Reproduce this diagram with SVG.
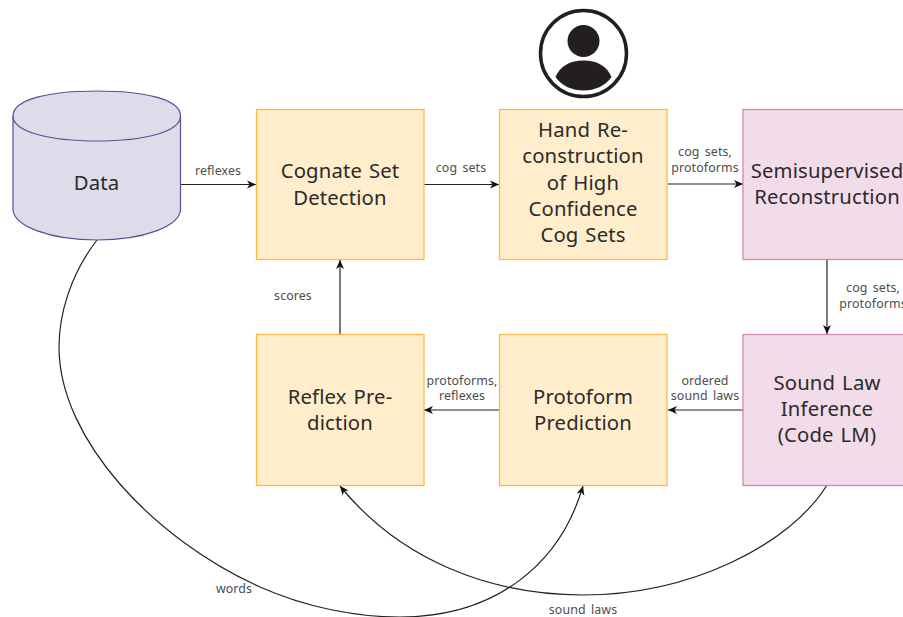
<svg xmlns="http://www.w3.org/2000/svg" width="903" height="617" viewBox="0 0 903 617">
<defs>
<marker id="arrow" viewBox="0 0 10 10" refX="9" refY="5" markerWidth="10" markerHeight="10" markerUnits="userSpaceOnUse" orient="auto"><path d="M0 1 L9 5 L0 9 L2.500 5 Z" fill="#111"/></marker>
</defs>
<style>
text{font-family:"Noto Sans","Open Sans",sans-serif;font-weight:400;text-anchor:middle;fill:#2b2b2b}
.n{font-size:20.300px;letter-spacing:.15px;word-spacing:1.500px}
.l{font-size:12.400px;letter-spacing:.1px;word-spacing:2px;fill:#4d4d4d}
.y{fill:#ffedcc;stroke:#fdbb45;stroke-width:1.300}
.p{fill:#f2dcea;stroke:#cf87b6;stroke-width:1.300}
.c{fill:none;stroke:#222;stroke-width:1.200;marker-end:url(#arrow)}
</style>
<g id="connectors">
<path class="c" d="M180.500 184.500H256"/>
<path class="c" d="M424 184.500H499"/>
<path class="c" d="M667.500 184H743"/>
<path class="c" d="M827 260V334"/>
<path class="c" d="M743 410H668"/>
<path class="c" d="M499 410H424"/>
<path class="c" d="M340 334V260"/>
<path class="c" d="M97 240C70 275 59 315 59 347C59 440 155 540 260 587C305 607 355 617 400 617C495 617 560 565 583 486"/>
<path class="c" d="M827 485C790 545 690 595 583 595C490 595 400 560 340 486"/>
</g>
<g id="labels">
<text class="l" x="218" y="175">reflexes</text>
<text class="l" x="461" y="172">cog sets</text>
<text class="l" x="705" y="156">cog sets,</text>
<text class="l" x="705" y="172">protoforms</text>
<text class="l" x="873" y="292">cog sets,</text>
<text class="l" x="873" y="308">protoforms</text>
<text class="l" x="705" y="385">ordered</text>
<text class="l" x="705" y="400">sound laws</text>
<text class="l" x="462" y="385">protoforms,</text>
<text class="l" x="462" y="400">reflexes</text>
<text class="l" x="293" y="300">scores</text>
<text class="l" x="234" y="593">words</text>
<text class="l" x="583" y="614">sound laws</text>
</g>
<g id="data">
<path d="M13 116V209C13 226 50 240 97 240S180.500 226 180.500 209V116C180.500 99 144 91 97 91S13 99 13 116Z" fill="#dedcea" stroke="#5b4f96" stroke-width="1.200"/>
<path d="M13 116C13 132 50 141 97 141S180.500 132 180.500 116" fill="none" stroke="#5b4f96" stroke-width="1.200"/>
<text class="n" x="96.500" y="190">Data</text>
</g>
<g id="cognate"><rect class="y" x="256.500" y="109.500" width="167.500" height="150"/>
<text class="n" x="340" y="178">Cognate Set</text><text class="n" x="340" y="204.500">Detection</text></g>
<g id="hand"><rect class="y" x="499.500" y="109.500" width="167.500" height="150"/>
<text class="n" x="583" y="137">Hand Re-</text><text class="n" x="583" y="163">construction</text><text class="n" x="583" y="190">of High</text><text class="n" x="583" y="216">Confidence</text><text class="n" x="583" y="242">Cog Sets</text></g>
<g id="semi"><rect class="p" x="743" y="109.500" width="170" height="150"/>
<text class="n" x="827" y="178">Semisupervised</text><text class="n" x="827" y="204">Reconstruction</text></g>
<g id="reflex"><rect class="y" x="256.500" y="334.500" width="167.500" height="151"/>
<text class="n" x="340" y="404">Reflex Pre-</text><text class="n" x="340" y="430">diction</text></g>
<g id="protoform"><rect class="y" x="499.500" y="334.500" width="167.500" height="151"/>
<text class="n" x="583" y="404">Protoform</text><text class="n" x="583" y="430">Prediction</text></g>
<g id="soundlaw"><rect class="p" x="743" y="334.500" width="170" height="151"/>
<text class="n" x="827" y="390">Sound Law</text><text class="n" x="827" y="416">Inference</text><text class="n" x="827" y="442">(Code LM)</text></g>
<g id="person">
<circle cx="583.500" cy="53.500" r="43" fill="#fff" stroke="#231f20" stroke-width="3.500"/>
<circle cx="583.500" cy="41" r="16" fill="#231f20"/>
<path d="M555.500 77C560 66 570 60.500 583.500 60.500S607 66 611.500 77C605 86 595 90.500 583.500 90.500S562 86 555.500 77Z" fill="#231f20"/>
</g>
</svg>
